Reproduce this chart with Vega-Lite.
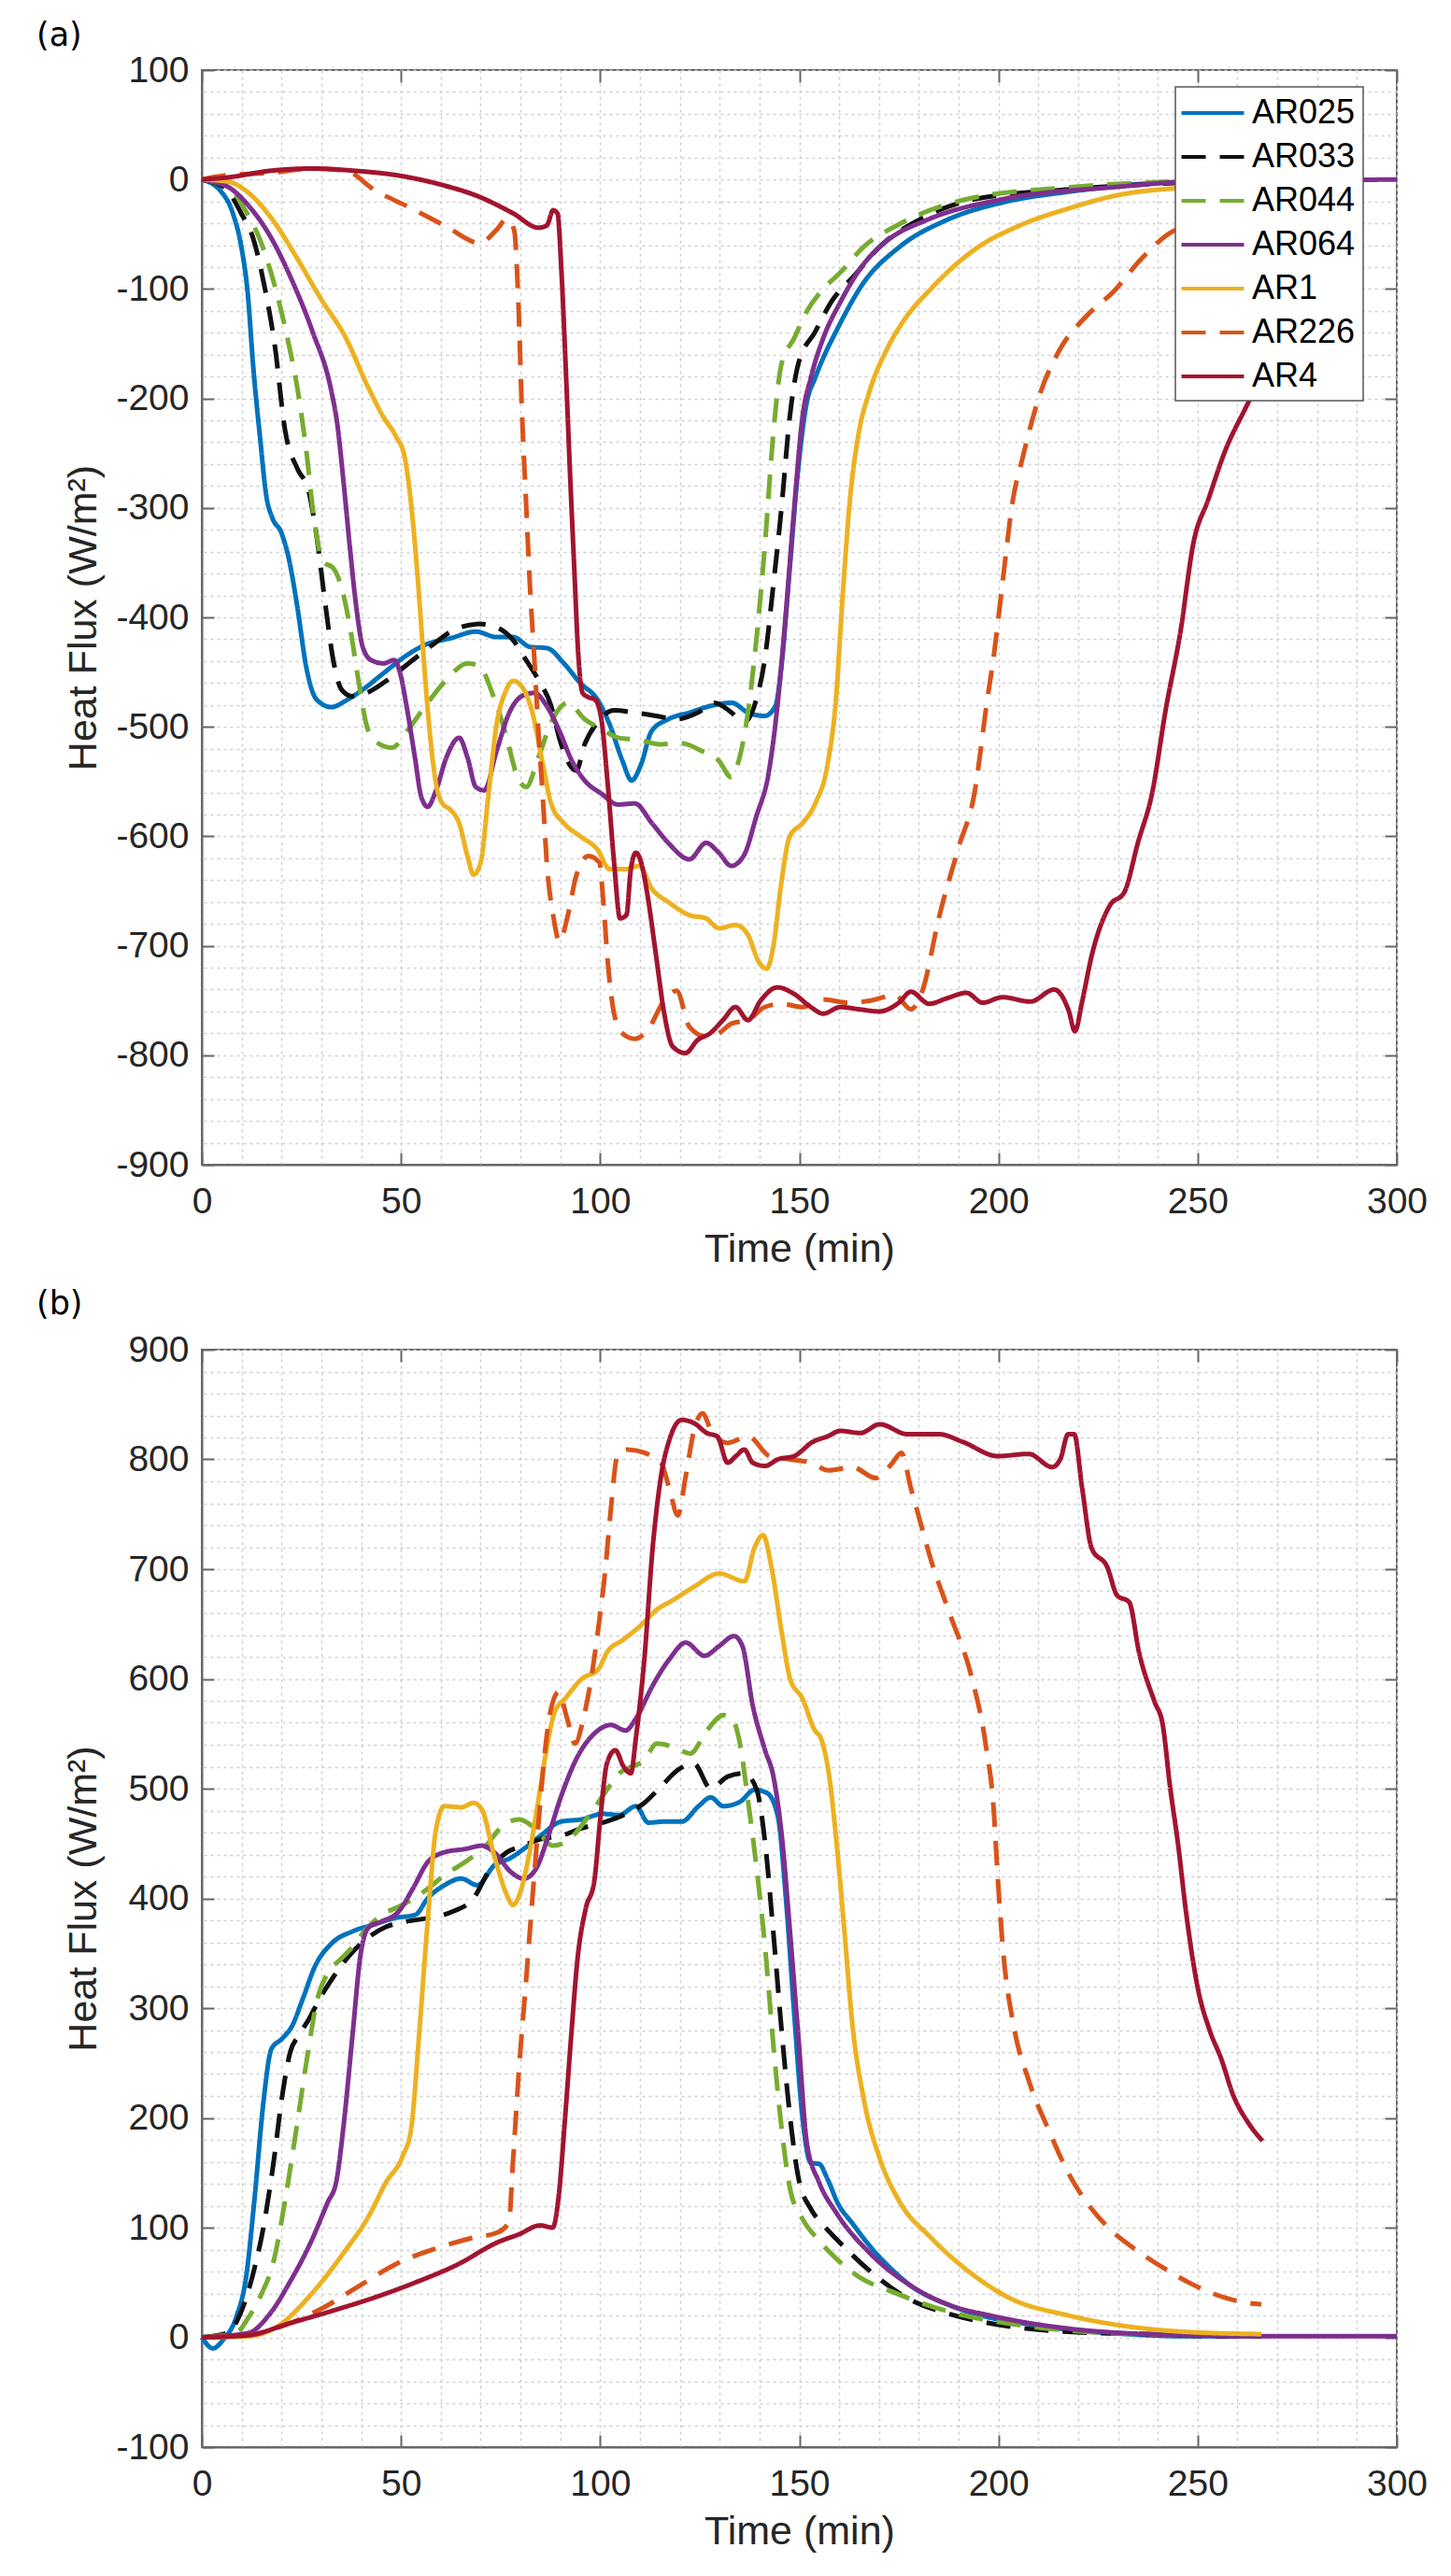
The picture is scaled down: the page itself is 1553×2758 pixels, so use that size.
{
"$schema":"https://vega.github.io/schema/vega-lite/v6.json",
"padding":{"left":38,"top":20,"right":10,"bottom":10},
"background":"white",
"config":{
 "view":{"stroke":"#666","strokeWidth":2},
 "axis":{"labelFont":"Liberation Sans","labelFontSize":39,"labelColor":"#262626","titleFont":"Liberation Sans","titleFontSize":43,"titleFontWeight":"normal","titleColor":"#262626","domainColor":"#666","domainWidth":2,"tickColor":"#666","tickWidth":2,"tickSize":-13,"grid":false,"gridColor":"#cfcfcf","gridDash":[3,4],"gridWidth":1.5,"labelOverlap":false,"labelBound":false,"labelFlush":false},
 "legend":{"orient":"none","legendX":1042,"legendY":18,"title":null,"labelFontSize":36,"labelFont":"Liberation Sans","labelColor":"#000","symbolType":"M-1.86,0H1.86","symbolSize":1296,"symbolStrokeWidth":4,"symbolOffset":12,"labelOffset":22,"rowPadding":9,"padding":8,"strokeColor":"#555","strokeWidth":1.5,"fillColor":"#fff","labelLimit":300},
 "line":{"strokeCap":"butt"}
},
"vconcat":[
 {
  "data":{"name":"a"},
  "title":{"text":"(a)","anchor":"start","frame":"group","dx":-177,"offset":0,"fontSize":35,"font":"DejaVu Sans","fontWeight":"normal","color":"#000"},
  "width":1279,"height":1172,
  "layer":[
   {"mark":{"type":"line","strokeOpacity":0},
    "encoding":{
     "x":{"field":"t","type":"quantitative","scale":{"domain":[0,300],"nice":false,"zero":false},"axis":{"orient":"top","values":[0,10,20,30,40,50,60,70,80,90,100,110,120,130,140,150,160,170,180,190,200,210,220,230,240,250,260,270,280,290,300],"grid":true,"labels":false,"domain":false,"title":null,"tickOpacity":{"condition":{"test":"datum.value % 50 === 0","value":1},"value":0},"maxExtent":0,"minExtent":0}},
     "y":{"field":"v","type":"quantitative","scale":{"domain":[-900,100],"nice":false,"zero":false},"axis":{"orient":"right","values":[-900,-880,-860,-840,-820,-800,-780,-760,-740,-720,-700,-680,-660,-640,-620,-600,-580,-560,-540,-520,-500,-480,-460,-440,-420,-400,-380,-360,-340,-320,-300,-280,-260,-240,-220,-200,-180,-160,-140,-120,-100,-80,-60,-40,-20,0,20,40,60,80,100],"grid":true,"labels":false,"domain":false,"title":null,"tickOpacity":{"condition":{"test":"datum.value % 100 === 0","value":1},"value":0},"maxExtent":0,"minExtent":0}},
     "detail":{"field":"s"}
    }},
   {"mark":{"type":"line","strokeWidth":5,"interpolate":"monotone"},
    "encoding":{
     "x":{"field":"t","type":"quantitative","axis":{"orient":"bottom","values":[0,50,100,150,200,250,300],"title":"Time (min)","labelPadding":33,"titlePadding":10}},
     "y":{"field":"v","type":"quantitative","axis":{"orient":"left","values":[-900,-800,-700,-600,-500,-400,-300,-200,-100,0,100],"labelExpr":"'' + datum.value","title":"Heat Flux (W/m²)","labelPadding":27,"titlePadding":12}},
     "color":{"field":"s","type":"nominal","scale":{"domain":["AR025","AR033","AR044","AR064","AR1","AR226","AR4"],"range":["#0072BD","#111111","#77AC30","#7E2F8E","#EDB120","#D95319","#A2142F"]}},
     "strokeDash":{"field":"s","type":"nominal","scale":{"domain":["AR025","AR033","AR044","AR064","AR1","AR226","AR4"],"range":[[1,0],[26,15],[26,15],[1,0],[1,0],[26,15],[1,0]]}}
    }}
  ],
  "resolve":{"axis":{"x":"independent","y":"independent"}}
 },
 {
  "data":{"name":"b"},
  "title":{"text":"(b)","anchor":"start","frame":"group","dx":-177,"offset":12,"fontSize":35,"font":"DejaVu Sans","fontWeight":"normal","color":"#000"},
  "width":1279,"height":1175,
  "layer":[
   {"mark":{"type":"line","strokeOpacity":0},
    "encoding":{
     "x":{"field":"t","type":"quantitative","scale":{"domain":[0,300],"nice":false,"zero":false},"axis":{"orient":"top","values":[0,10,20,30,40,50,60,70,80,90,100,110,120,130,140,150,160,170,180,190,200,210,220,230,240,250,260,270,280,290,300],"grid":true,"labels":false,"domain":false,"title":null,"tickOpacity":{"condition":{"test":"datum.value % 50 === 0","value":1},"value":0},"maxExtent":0,"minExtent":0}},
     "y":{"field":"v","type":"quantitative","scale":{"domain":[-100,900],"nice":false,"zero":false},"axis":{"orient":"right","values":[-100,-80,-60,-40,-20,0,20,40,60,80,100,120,140,160,180,200,220,240,260,280,300,320,340,360,380,400,420,440,460,480,500,520,540,560,580,600,620,640,660,680,700,720,740,760,780,800,820,840,860,880,900],"grid":true,"labels":false,"domain":false,"title":null,"tickOpacity":{"condition":{"test":"datum.value % 100 === 0","value":1},"value":0},"maxExtent":0,"minExtent":0}},
     "detail":{"field":"s"}
    }},
   {"mark":{"type":"line","strokeWidth":5,"interpolate":"monotone"},
    "encoding":{
     "x":{"field":"t","type":"quantitative","axis":{"orient":"bottom","values":[0,50,100,150,200,250,300],"title":"Time (min)","labelPadding":33,"titlePadding":10}},
     "y":{"field":"v","type":"quantitative","axis":{"orient":"left","values":[-100,0,100,200,300,400,500,600,700,800,900],"labelExpr":"'' + datum.value","title":"Heat Flux (W/m²)","labelPadding":27,"titlePadding":12}},
     "color":{"field":"s","type":"nominal","scale":{"domain":["AR025","AR033","AR044","AR064","AR1","AR226","AR4"],"range":["#0072BD","#111111","#77AC30","#7E2F8E","#EDB120","#D95319","#A2142F"]}},
     "strokeDash":{"field":"s","type":"nominal","scale":{"domain":["AR025","AR033","AR044","AR064","AR1","AR226","AR4"],"range":[[1,0],[26,15],[26,15],[1,0],[1,0],[26,15],[1,0]]}}
    }}
  ],
  "resolve":{"axis":{"x":"independent","y":"independent"}}
 }
],
"spacing":18,
"datasets":{
"a":[
{"s":"AR025","t":0,"v":0},{"s":"AR025","t":4.6,"v":-10},{"s":"AR025","t":7.8,"v":-31},{"s":"AR025","t":9.9,"v":-61},{"s":"AR025","t":11.5,"v":-103},{"s":"AR025","t":13,"v":-175},{"s":"AR025","t":14.6,"v":-235},{"s":"AR025","t":16.2,"v":-289},{"s":"AR025","t":17.8,"v":-310},{"s":"AR025","t":19.9,"v":-322},{"s":"AR025","t":22,"v":-349},{"s":"AR025","t":24,"v":-391},{"s":"AR025","t":26.2,"v":-445},{"s":"AR025","t":28.8,"v":-475},{"s":"AR025","t":32.5,"v":-482},{"s":"AR025","t":36.2,"v":-476},{"s":"AR025","t":40.4,"v":-466},{"s":"AR025","t":45.6,"v":-451},{"s":"AR025","t":50.9,"v":-436},{"s":"AR025","t":56.1,"v":-425},{"s":"AR025","t":62.5,"v":-419},{"s":"AR025","t":68.8,"v":-413},{"s":"AR025","t":74,"v":-418},{"s":"AR025","t":78.2,"v":-418},{"s":"AR025","t":82.4,"v":-427},{"s":"AR025","t":86.6,"v":-428},{"s":"AR025","t":90.9,"v":-442},{"s":"AR025","t":95,"v":-460},{"s":"AR025","t":99.3,"v":-475},{"s":"AR025","t":102.4,"v":-498},{"s":"AR025","t":105.6,"v":-531},{"s":"AR025","t":107.9,"v":-549},{"s":"AR025","t":110.3,"v":-534},{"s":"AR025","t":112.9,"v":-504},{"s":"AR025","t":117.1,"v":-493},{"s":"AR025","t":122.4,"v":-487},{"s":"AR025","t":127.6,"v":-481},{"s":"AR025","t":133,"v":-478},{"s":"AR025","t":137.1,"v":-487},{"s":"AR025","t":141.3,"v":-490},{"s":"AR025","t":144,"v":-481},{"s":"AR025","t":145.5,"v":-445},{"s":"AR025","t":147.6,"v":-355},{"s":"AR025","t":149.7,"v":-265},{"s":"AR025","t":151.8,"v":-205},{"s":"AR025","t":154,"v":-181},{"s":"AR025","t":156,"v":-163},{"s":"AR025","t":159.2,"v":-139},{"s":"AR025","t":166,"v":-95},{"s":"AR025","t":175,"v":-62},{"s":"AR025","t":187,"v":-37},{"s":"AR025","t":201,"v":-21},{"s":"AR025","t":218,"v":-11},{"s":"AR025","t":241,"v":-3},{"s":"AR025","t":266,"v":-1},
{"s":"AR033","t":0,"v":0},{"s":"AR033","t":5.7,"v":-7},{"s":"AR033","t":9.9,"v":-31},{"s":"AR033","t":13,"v":-55},{"s":"AR033","t":15.7,"v":-97},{"s":"AR033","t":18.3,"v":-151},{"s":"AR033","t":20.9,"v":-229},{"s":"AR033","t":24.1,"v":-265},{"s":"AR033","t":26.7,"v":-283},{"s":"AR033","t":28.8,"v":-325},{"s":"AR033","t":30.9,"v":-385},{"s":"AR033","t":33,"v":-439},{"s":"AR033","t":35.1,"v":-466},{"s":"AR033","t":37.7,"v":-472},{"s":"AR033","t":41.4,"v":-469},{"s":"AR033","t":46.7,"v":-457},{"s":"AR033","t":51.9,"v":-442},{"s":"AR033","t":58.3,"v":-424},{"s":"AR033","t":63.5,"v":-411},{"s":"AR033","t":69.8,"v":-406},{"s":"AR033","t":74,"v":-409},{"s":"AR033","t":78.2,"v":-421},{"s":"AR033","t":81.4,"v":-439},{"s":"AR033","t":84.5,"v":-457},{"s":"AR033","t":87.7,"v":-481},{"s":"AR033","t":89.8,"v":-511},{"s":"AR033","t":91.9,"v":-532},{"s":"AR033","t":94,"v":-540},{"s":"AR033","t":96.1,"v":-516},{"s":"AR033","t":99.3,"v":-496},{"s":"AR033","t":103.5,"v":-485},{"s":"AR033","t":108.7,"v":-487},{"s":"AR033","t":114,"v":-490},{"s":"AR033","t":119.2,"v":-493},{"s":"AR033","t":124.5,"v":-487},{"s":"AR033","t":128.7,"v":-478},{"s":"AR033","t":133,"v":-487},{"s":"AR033","t":136,"v":-496},{"s":"AR033","t":139.2,"v":-475},{"s":"AR033","t":141.3,"v":-439},{"s":"AR033","t":143.4,"v":-373},{"s":"AR033","t":145.5,"v":-301},{"s":"AR033","t":147.6,"v":-217},{"s":"AR033","t":149.7,"v":-169},{"s":"AR033","t":154,"v":-139},{"s":"AR033","t":158,"v":-112},{"s":"AR033","t":164,"v":-87},{"s":"AR033","t":170,"v":-62},{"s":"AR033","t":180,"v":-37},{"s":"AR033","t":194,"v":-18},{"s":"AR033","t":218,"v":-9},{"s":"AR033","t":245,"v":-3},{"s":"AR033","t":266,"v":-1},
{"s":"AR044","t":0,"v":0},{"s":"AR044","t":6.7,"v":-7},{"s":"AR044","t":10.9,"v":-28},{"s":"AR044","t":14.6,"v":-55},{"s":"AR044","t":18.3,"v":-97},{"s":"AR044","t":21.5,"v":-145},{"s":"AR044","t":24.1,"v":-193},{"s":"AR044","t":26.2,"v":-247},{"s":"AR044","t":28.3,"v":-313},{"s":"AR044","t":30.4,"v":-349},{"s":"AR044","t":33,"v":-355},{"s":"AR044","t":35.1,"v":-373},{"s":"AR044","t":37.2,"v":-409},{"s":"AR044","t":39.3,"v":-457},{"s":"AR044","t":41.4,"v":-499},{"s":"AR044","t":43.5,"v":-513},{"s":"AR044","t":47.7,"v":-519},{"s":"AR044","t":51.9,"v":-502},{"s":"AR044","t":56.1,"v":-481},{"s":"AR044","t":61.4,"v":-457},{"s":"AR044","t":66.7,"v":-442},{"s":"AR044","t":69.8,"v":-445},{"s":"AR044","t":72.9,"v":-469},{"s":"AR044","t":76.1,"v":-504},{"s":"AR044","t":79.3,"v":-546},{"s":"AR044","t":81.4,"v":-555},{"s":"AR044","t":84.5,"v":-528},{"s":"AR044","t":87.7,"v":-496},{"s":"AR044","t":91.9,"v":-478},{"s":"AR044","t":96.1,"v":-493},{"s":"AR044","t":100.3,"v":-502},{"s":"AR044","t":104.5,"v":-510},{"s":"AR044","t":109.8,"v":-512},{"s":"AR044","t":115,"v":-516},{"s":"AR044","t":120.3,"v":-515},{"s":"AR044","t":125.5,"v":-522},{"s":"AR044","t":129.8,"v":-531},{"s":"AR044","t":132.9,"v":-546},{"s":"AR044","t":135,"v":-528},{"s":"AR044","t":137.1,"v":-487},{"s":"AR044","t":139.2,"v":-421},{"s":"AR044","t":141.3,"v":-337},{"s":"AR044","t":143.4,"v":-235},{"s":"AR044","t":145.5,"v":-169},{"s":"AR044","t":148.7,"v":-145},{"s":"AR044","t":151.8,"v":-121},{"s":"AR044","t":156,"v":-100},{"s":"AR044","t":160.3,"v":-85},{"s":"AR044","t":166,"v":-62},{"s":"AR044","t":175,"v":-41},{"s":"AR044","t":192,"v":-18},{"s":"AR044","t":218,"v":-7},{"s":"AR044","t":243,"v":-2},{"s":"AR044","t":266,"v":0},
{"s":"AR064","t":0,"v":0},{"s":"AR064","t":6.7,"v":-7},{"s":"AR064","t":12,"v":-25},{"s":"AR064","t":17.2,"v":-52},{"s":"AR064","t":22.5,"v":-91},{"s":"AR064","t":27.8,"v":-139},{"s":"AR064","t":32.5,"v":-193},{"s":"AR064","t":34,"v":-223},{"s":"AR064","t":35.6,"v":-277},{"s":"AR064","t":37.2,"v":-337},{"s":"AR064","t":38.8,"v":-391},{"s":"AR064","t":40.4,"v":-427},{"s":"AR064","t":42.5,"v":-439},{"s":"AR064","t":45.6,"v":-442},{"s":"AR064","t":48.3,"v":-439},{"s":"AR064","t":49.8,"v":-451},{"s":"AR064","t":51.4,"v":-481},{"s":"AR064","t":53.5,"v":-528},{"s":"AR064","t":55.1,"v":-564},{"s":"AR064","t":56.7,"v":-573},{"s":"AR064","t":58.8,"v":-558},{"s":"AR064","t":61.4,"v":-528},{"s":"AR064","t":64.6,"v":-510},{"s":"AR064","t":66.7,"v":-528},{"s":"AR064","t":68.8,"v":-555},{"s":"AR064","t":70.9,"v":-558},{"s":"AR064","t":74,"v":-522},{"s":"AR064","t":77.2,"v":-487},{"s":"AR064","t":80.3,"v":-472},{"s":"AR064","t":83.5,"v":-469},{"s":"AR064","t":86.6,"v":-481},{"s":"AR064","t":89.8,"v":-504},{"s":"AR064","t":92.9,"v":-531},{"s":"AR064","t":96.1,"v":-549},{"s":"AR064","t":100.3,"v":-561},{"s":"AR064","t":104.5,"v":-571},{"s":"AR064","t":108.7,"v":-570},{"s":"AR064","t":113,"v":-588},{"s":"AR064","t":117.1,"v":-606},{"s":"AR064","t":122.4,"v":-621},{"s":"AR064","t":126.6,"v":-606},{"s":"AR064","t":129.8,"v":-615},{"s":"AR064","t":132.9,"v":-627},{"s":"AR064","t":136,"v":-618},{"s":"AR064","t":139.2,"v":-582},{"s":"AR064","t":142.4,"v":-540},{"s":"AR064","t":144.5,"v":-481},{"s":"AR064","t":146.6,"v":-397},{"s":"AR064","t":148.7,"v":-301},{"s":"AR064","t":150.8,"v":-217},{"s":"AR064","t":152.9,"v":-181},{"s":"AR064","t":156,"v":-145},{"s":"AR064","t":160.3,"v":-112},{"s":"AR064","t":166,"v":-78},{"s":"AR064","t":172,"v":-56},{"s":"AR064","t":182,"v":-37},{"s":"AR064","t":201,"v":-18},{"s":"AR064","t":229,"v":-7},{"s":"AR064","t":248,"v":-2},{"s":"AR064","t":270,"v":-1},{"s":"AR064","t":300,"v":0},
{"s":"AR1","t":0,"v":0},{"s":"AR1","t":6.7,"v":-2},{"s":"AR1","t":12,"v":-13},{"s":"AR1","t":17.2,"v":-34},{"s":"AR1","t":23.6,"v":-70},{"s":"AR1","t":29.9,"v":-109},{"s":"AR1","t":36.2,"v":-145},{"s":"AR1","t":41.4,"v":-187},{"s":"AR1","t":45.6,"v":-217},{"s":"AR1","t":48.8,"v":-235},{"s":"AR1","t":50.9,"v":-253},{"s":"AR1","t":52.5,"v":-295},{"s":"AR1","t":54,"v":-355},{"s":"AR1","t":55.6,"v":-433},{"s":"AR1","t":57.2,"v":-504},{"s":"AR1","t":58.8,"v":-552},{"s":"AR1","t":60.4,"v":-570},{"s":"AR1","t":62.5,"v":-576},{"s":"AR1","t":64.6,"v":-588},{"s":"AR1","t":66.7,"v":-618},{"s":"AR1","t":68.2,"v":-635},{"s":"AR1","t":70,"v":-624},{"s":"AR1","t":71.9,"v":-564},{"s":"AR1","t":74,"v":-498},{"s":"AR1","t":76.1,"v":-469},{"s":"AR1","t":78.2,"v":-458},{"s":"AR1","t":80.3,"v":-463},{"s":"AR1","t":83,"v":-487},{"s":"AR1","t":85.6,"v":-534},{"s":"AR1","t":87.7,"v":-570},{"s":"AR1","t":90.9,"v":-588},{"s":"AR1","t":95,"v":-600},{"s":"AR1","t":99.3,"v":-612},{"s":"AR1","t":102.4,"v":-630},{"s":"AR1","t":106.6,"v":-630},{"s":"AR1","t":109.8,"v":-627},{"s":"AR1","t":113,"v":-648},{"s":"AR1","t":117.1,"v":-660},{"s":"AR1","t":122.4,"v":-672},{"s":"AR1","t":126.6,"v":-675},{"s":"AR1","t":129.8,"v":-684},{"s":"AR1","t":134,"v":-681},{"s":"AR1","t":137.1,"v":-690},{"s":"AR1","t":139.7,"v":-714},{"s":"AR1","t":141.8,"v":-721},{"s":"AR1","t":143.4,"v":-702},{"s":"AR1","t":145.5,"v":-642},{"s":"AR1","t":147.6,"v":-600},{"s":"AR1","t":150.8,"v":-588},{"s":"AR1","t":154,"v":-570},{"s":"AR1","t":157.1,"v":-534},{"s":"AR1","t":159.2,"v":-475},{"s":"AR1","t":160.8,"v":-385},{"s":"AR1","t":162.7,"v":-293},{"s":"AR1","t":165,"v":-230},{"s":"AR1","t":167.5,"v":-195},{"s":"AR1","t":172,"v":-155},{"s":"AR1","t":176,"v":-130},{"s":"AR1","t":183,"v":-100},{"s":"AR1","t":194,"v":-64},{"s":"AR1","t":206,"v":-41},{"s":"AR1","t":218,"v":-26},{"s":"AR1","t":229,"v":-15},{"s":"AR1","t":248,"v":-7},{"s":"AR1","t":266,"v":-4},
{"s":"AR226","t":0,"v":0},{"s":"AR226","t":6.7,"v":4},{"s":"AR226","t":17.2,"v":6},{"s":"AR226","t":27.8,"v":10},{"s":"AR226","t":36.2,"v":8},{"s":"AR226","t":43.5,"v":-10},{"s":"AR226","t":51.9,"v":-25},{"s":"AR226","t":61.4,"v":-43},{"s":"AR226","t":69.8,"v":-58},{"s":"AR226","t":74,"v":-46},{"s":"AR226","t":76.6,"v":-36},{"s":"AR226","t":78.4,"v":-46},{"s":"AR226","t":79.5,"v":-115},{"s":"AR226","t":80.3,"v":-205},{"s":"AR226","t":81.4,"v":-295},{"s":"AR226","t":82.4,"v":-373},{"s":"AR226","t":83.5,"v":-439},{"s":"AR226","t":84.5,"v":-504},{"s":"AR226","t":85.6,"v":-564},{"s":"AR226","t":86.6,"v":-624},{"s":"AR226","t":88.2,"v":-672},{"s":"AR226","t":89.8,"v":-696},{"s":"AR226","t":91.9,"v":-672},{"s":"AR226","t":94,"v":-636},{"s":"AR226","t":97.1,"v":-618},{"s":"AR226","t":99.8,"v":-624},{"s":"AR226","t":100.8,"v":-660},{"s":"AR226","t":101.9,"v":-714},{"s":"AR226","t":103.5,"v":-762},{"s":"AR226","t":105.6,"v":-780},{"s":"AR226","t":108.7,"v":-785},{"s":"AR226","t":111.9,"v":-777},{"s":"AR226","t":116.1,"v":-750},{"s":"AR226","t":119.2,"v":-741},{"s":"AR226","t":122.4,"v":-774},{"s":"AR226","t":126.6,"v":-783},{"s":"AR226","t":129.8,"v":-780},{"s":"AR226","t":133,"v":-771},{"s":"AR226","t":137.1,"v":-768},{"s":"AR226","t":141.3,"v":-756},{"s":"AR226","t":145.5,"v":-753},{"s":"AR226","t":150.8,"v":-756},{"s":"AR226","t":156,"v":-749},{"s":"AR226","t":162,"v":-752},{"s":"AR226","t":168,"v":-750},{"s":"AR226","t":174,"v":-745},{"s":"AR226","t":178,"v":-758},{"s":"AR226","t":181,"v":-740},{"s":"AR226","t":185,"v":-675},{"s":"AR226","t":190,"v":-610},{"s":"AR226","t":194,"v":-560},{"s":"AR226","t":197,"v":-480},{"s":"AR226","t":199,"v":-430},{"s":"AR226","t":201,"v":-369},{"s":"AR226","t":203.6,"v":-293},{"s":"AR226","t":206,"v":-255},{"s":"AR226","t":210.6,"v":-194},{"s":"AR226","t":215.3,"v":-156},{"s":"AR226","t":222,"v":-125},{"s":"AR226","t":229,"v":-102},{"s":"AR226","t":236,"v":-72},{"s":"AR226","t":243,"v":-49},{"s":"AR226","t":250,"v":-40},{"s":"AR226","t":258,"v":-33},{"s":"AR226","t":265,"v":-30},
{"s":"AR4","t":0,"v":0},{"s":"AR4","t":6.7,"v":2},{"s":"AR4","t":17.2,"v":8},{"s":"AR4","t":27.8,"v":10},{"s":"AR4","t":38.3,"v":8},{"s":"AR4","t":48.8,"v":4},{"s":"AR4","t":59.3,"v":-4},{"s":"AR4","t":69.8,"v":-16},{"s":"AR4","t":78.2,"v":-31},{"s":"AR4","t":84.5,"v":-44},{"s":"AR4","t":86.6,"v":-42},{"s":"AR4","t":88.2,"v":-28},{"s":"AR4","t":89.3,"v":-31},{"s":"AR4","t":90.3,"v":-85},{"s":"AR4","t":91.4,"v":-175},{"s":"AR4","t":92.4,"v":-265},{"s":"AR4","t":93.5,"v":-355},{"s":"AR4","t":94.5,"v":-433},{"s":"AR4","t":95.6,"v":-469},{"s":"AR4","t":97.1,"v":-473},{"s":"AR4","t":98.7,"v":-475},{"s":"AR4","t":100.3,"v":-493},{"s":"AR4","t":101.9,"v":-552},{"s":"AR4","t":103.5,"v":-624},{"s":"AR4","t":105,"v":-675},{"s":"AR4","t":106.6,"v":-672},{"s":"AR4","t":107.7,"v":-630},{"s":"AR4","t":109,"v":-615},{"s":"AR4","t":110.3,"v":-624},{"s":"AR4","t":111.9,"v":-654},{"s":"AR4","t":114,"v":-708},{"s":"AR4","t":116.1,"v":-762},{"s":"AR4","t":118.2,"v":-792},{"s":"AR4","t":121.4,"v":-798},{"s":"AR4","t":124.5,"v":-786},{"s":"AR4","t":127.6,"v":-780},{"s":"AR4","t":130.8,"v":-768},{"s":"AR4","t":134,"v":-756},{"s":"AR4","t":137.1,"v":-768},{"s":"AR4","t":140.3,"v":-750},{"s":"AR4","t":144.5,"v":-738},{"s":"AR4","t":148.7,"v":-744},{"s":"AR4","t":152.9,"v":-756},{"s":"AR4","t":156,"v":-762},{"s":"AR4","t":160.3,"v":-756},{"s":"AR4","t":165,"v":-758},{"s":"AR4","t":170,"v":-760},{"s":"AR4","t":175,"v":-752},{"s":"AR4","t":178,"v":-742},{"s":"AR4","t":182.6,"v":-753},{"s":"AR4","t":187,"v":-748},{"s":"AR4","t":192,"v":-743},{"s":"AR4","t":196,"v":-752},{"s":"AR4","t":201,"v":-747},{"s":"AR4","t":208,"v":-751},{"s":"AR4","t":214,"v":-740},{"s":"AR4","t":217.6,"v":-759},{"s":"AR4","t":219.2,"v":-778},{"s":"AR4","t":221,"v":-751},{"s":"AR4","t":223.4,"v":-709},{"s":"AR4","t":228,"v":-663},{"s":"AR4","t":231.6,"v":-651},{"s":"AR4","t":235,"v":-606},{"s":"AR4","t":238.6,"v":-560},{"s":"AR4","t":242,"v":-484},{"s":"AR4","t":245.6,"v":-415},{"s":"AR4","t":249,"v":-331},{"s":"AR4","t":252.6,"v":-293},{"s":"AR4","t":257,"v":-247},{"s":"AR4","t":262,"v":-209},{"s":"AR4","t":266,"v":-180}
],
"b":[
{"s":"AR025","t":0,"v":0},{"s":"AR025","t":2.8,"v":-10},{"s":"AR025","t":5.4,"v":-2},{"s":"AR025","t":8.6,"v":18},{"s":"AR025","t":11.2,"v":57},{"s":"AR025","t":13.3,"v":129},{"s":"AR025","t":15.4,"v":212},{"s":"AR025","t":17.5,"v":263},{"s":"AR025","t":20.1,"v":272},{"s":"AR025","t":22.7,"v":284},{"s":"AR025","t":25.3,"v":308},{"s":"AR025","t":28.4,"v":338},{"s":"AR025","t":32.6,"v":359},{"s":"AR025","t":37.9,"v":370},{"s":"AR025","t":43.1,"v":376},{"s":"AR025","t":48.3,"v":382},{"s":"AR025","t":53.6,"v":385},{"s":"AR025","t":56.7,"v":400},{"s":"AR025","t":60.9,"v":412},{"s":"AR025","t":65.1,"v":418},{"s":"AR025","t":69.2,"v":412},{"s":"AR025","t":73.4,"v":430},{"s":"AR025","t":77.6,"v":437},{"s":"AR025","t":80.8,"v":445},{"s":"AR025","t":85,"v":457},{"s":"AR025","t":90.2,"v":470},{"s":"AR025","t":95.4,"v":472},{"s":"AR025","t":100.6,"v":477},{"s":"AR025","t":104.8,"v":476},{"s":"AR025","t":109,"v":484},{"s":"AR025","t":112.1,"v":469},{"s":"AR025","t":116.3,"v":470},{"s":"AR025","t":120.5,"v":470},{"s":"AR025","t":124.7,"v":484},{"s":"AR025","t":127.8,"v":492},{"s":"AR025","t":130.9,"v":484},{"s":"AR025","t":135.1,"v":488},{"s":"AR025","t":138.8,"v":499},{"s":"AR025","t":141.9,"v":496},{"s":"AR025","t":144.6,"v":475},{"s":"AR025","t":146.7,"v":397},{"s":"AR025","t":148.7,"v":296},{"s":"AR025","t":150.8,"v":200},{"s":"AR025","t":152.9,"v":159},{"s":"AR025","t":155,"v":158},{"s":"AR025","t":157.1,"v":144},{"s":"AR025","t":159.7,"v":122},{"s":"AR025","t":163.3,"v":104},{"s":"AR025","t":168.2,"v":81},{"s":"AR025","t":173.2,"v":62},{"s":"AR025","t":178,"v":47},{"s":"AR025","t":187.9,"v":29},{"s":"AR025","t":197.8,"v":18},{"s":"AR025","t":207.6,"v":12},{"s":"AR025","t":217.5,"v":7},{"s":"AR025","t":232,"v":3},{"s":"AR025","t":247,"v":1},{"s":"AR025","t":266,"v":1},
{"s":"AR033","t":0,"v":0},{"s":"AR033","t":6.5,"v":4},{"s":"AR033","t":9.6,"v":21},{"s":"AR033","t":12.8,"v":57},{"s":"AR033","t":15.4,"v":99},{"s":"AR033","t":18,"v":159},{"s":"AR033","t":20.1,"v":218},{"s":"AR033","t":22.2,"v":260},{"s":"AR033","t":24.3,"v":275},{"s":"AR033","t":26.9,"v":290},{"s":"AR033","t":29.5,"v":308},{"s":"AR033","t":32.6,"v":326},{"s":"AR033","t":36.8,"v":347},{"s":"AR033","t":41,"v":362},{"s":"AR033","t":46.2,"v":374},{"s":"AR033","t":51.5,"v":379},{"s":"AR033","t":56.7,"v":382},{"s":"AR033","t":63,"v":388},{"s":"AR033","t":68.2,"v":400},{"s":"AR033","t":72.4,"v":427},{"s":"AR033","t":76.6,"v":442},{"s":"AR033","t":80.7,"v":448},{"s":"AR033","t":85,"v":454},{"s":"AR033","t":90.2,"v":457},{"s":"AR033","t":95.4,"v":464},{"s":"AR033","t":100.6,"v":469},{"s":"AR033","t":105.9,"v":476},{"s":"AR033","t":111.1,"v":487},{"s":"AR033","t":115.3,"v":502},{"s":"AR033","t":119.5,"v":517},{"s":"AR033","t":123.5,"v":523},{"s":"AR033","t":127.8,"v":500},{"s":"AR033","t":132,"v":511},{"s":"AR033","t":136.2,"v":514},{"s":"AR033","t":139.3,"v":499},{"s":"AR033","t":141.4,"v":451},{"s":"AR033","t":143.5,"v":368},{"s":"AR033","t":145.6,"v":278},{"s":"AR033","t":147.7,"v":200},{"s":"AR033","t":149.8,"v":145},{"s":"AR033","t":152.9,"v":117},{"s":"AR033","t":156.1,"v":102},{"s":"AR033","t":159.2,"v":90},{"s":"AR033","t":168.2,"v":59},{"s":"AR033","t":178,"v":34},{"s":"AR033","t":188,"v":21},{"s":"AR033","t":202.7,"v":10},{"s":"AR033","t":217.5,"v":5},{"s":"AR033","t":237,"v":3},{"s":"AR033","t":257,"v":1},{"s":"AR033","t":266,"v":1},
{"s":"AR044","t":0,"v":0},{"s":"AR044","t":8.6,"v":4},{"s":"AR044","t":11.7,"v":18},{"s":"AR044","t":14.9,"v":39},{"s":"AR044","t":18,"v":69},{"s":"AR044","t":21.1,"v":129},{"s":"AR044","t":23.7,"v":189},{"s":"AR044","t":26.4,"v":254},{"s":"AR044","t":29,"v":308},{"s":"AR044","t":31.6,"v":332},{"s":"AR044","t":34.7,"v":344},{"s":"AR044","t":37.9,"v":356},{"s":"AR044","t":41,"v":371},{"s":"AR044","t":45.2,"v":385},{"s":"AR044","t":50.4,"v":394},{"s":"AR044","t":55.7,"v":406},{"s":"AR044","t":60.9,"v":421},{"s":"AR044","t":67.2,"v":436},{"s":"AR044","t":71.3,"v":448},{"s":"AR044","t":75.5,"v":466},{"s":"AR044","t":79.7,"v":472},{"s":"AR044","t":83.9,"v":463},{"s":"AR044","t":88.1,"v":448},{"s":"AR044","t":92.3,"v":454},{"s":"AR044","t":96.5,"v":472},{"s":"AR044","t":100.6,"v":493},{"s":"AR044","t":104.8,"v":514},{"s":"AR044","t":108,"v":520},{"s":"AR044","t":111.1,"v":526},{"s":"AR044","t":114.2,"v":541},{"s":"AR044","t":118.4,"v":538},{"s":"AR044","t":122.6,"v":532},{"s":"AR044","t":126.8,"v":553},{"s":"AR044","t":131,"v":567},{"s":"AR044","t":133.1,"v":564},{"s":"AR044","t":135.1,"v":541},{"s":"AR044","t":137.2,"v":487},{"s":"AR044","t":139.3,"v":427},{"s":"AR044","t":141.4,"v":356},{"s":"AR044","t":143.5,"v":266},{"s":"AR044","t":145.6,"v":189},{"s":"AR044","t":147.7,"v":135},{"s":"AR044","t":150.8,"v":108},{"s":"AR044","t":155,"v":88},{"s":"AR044","t":159.2,"v":72},{"s":"AR044","t":165,"v":55},{"s":"AR044","t":173,"v":42},{"s":"AR044","t":188,"v":23},{"s":"AR044","t":207.6,"v":10},{"s":"AR044","t":227,"v":4},{"s":"AR044","t":247,"v":2},{"s":"AR044","t":266,"v":1},
{"s":"AR064","t":0,"v":0},{"s":"AR064","t":11.7,"v":4},{"s":"AR064","t":17,"v":21},{"s":"AR064","t":22.2,"v":51},{"s":"AR064","t":27.4,"v":87},{"s":"AR064","t":31.6,"v":123},{"s":"AR064","t":33.7,"v":141},{"s":"AR064","t":35.8,"v":200},{"s":"AR064","t":37.9,"v":278},{"s":"AR064","t":39.9,"v":350},{"s":"AR064","t":42,"v":374},{"s":"AR064","t":45.2,"v":379},{"s":"AR064","t":49.4,"v":388},{"s":"AR064","t":53,"v":409},{"s":"AR064","t":56.7,"v":433},{"s":"AR064","t":60.9,"v":442},{"s":"AR064","t":66.1,"v":445},{"s":"AR064","t":70.3,"v":448},{"s":"AR064","t":73.4,"v":442},{"s":"AR064","t":77.6,"v":424},{"s":"AR064","t":80.8,"v":418},{"s":"AR064","t":83.9,"v":427},{"s":"AR064","t":87,"v":457},{"s":"AR064","t":90.2,"v":493},{"s":"AR064","t":94.3,"v":529},{"s":"AR064","t":98.5,"v":550},{"s":"AR064","t":102.7,"v":558},{"s":"AR064","t":106.4,"v":553},{"s":"AR064","t":109,"v":564},{"s":"AR064","t":113.2,"v":594},{"s":"AR064","t":117.4,"v":618},{"s":"AR064","t":121.5,"v":633},{"s":"AR064","t":126.2,"v":621},{"s":"AR064","t":129.9,"v":630},{"s":"AR064","t":133.6,"v":639},{"s":"AR064","t":135.7,"v":630},{"s":"AR064","t":138.3,"v":576},{"s":"AR064","t":141.4,"v":535},{"s":"AR064","t":143.5,"v":511},{"s":"AR064","t":145.6,"v":457},{"s":"AR064","t":147.7,"v":368},{"s":"AR064","t":149.8,"v":272},{"s":"AR064","t":151.9,"v":177},{"s":"AR064","t":155,"v":141},{"s":"AR064","t":159.2,"v":114},{"s":"AR064","t":168.2,"v":75},{"s":"AR064","t":178,"v":47},{"s":"AR064","t":188,"v":29},{"s":"AR064","t":197.8,"v":20},{"s":"AR064","t":217.5,"v":8},{"s":"AR064","t":237,"v":3},{"s":"AR064","t":266,"v":1},{"s":"AR064","t":300,"v":1},
{"s":"AR1","t":0,"v":0},{"s":"AR1","t":11.7,"v":1},{"s":"AR1","t":19,"v":10},{"s":"AR1","t":27.4,"v":39},{"s":"AR1","t":35.8,"v":78},{"s":"AR1","t":42,"v":111},{"s":"AR1","t":46.2,"v":141},{"s":"AR1","t":50.4,"v":165},{"s":"AR1","t":52.5,"v":189},{"s":"AR1","t":54.6,"v":278},{"s":"AR1","t":56.7,"v":379},{"s":"AR1","t":58.8,"v":463},{"s":"AR1","t":60.9,"v":484},{"s":"AR1","t":65.1,"v":483},{"s":"AR1","t":68.2,"v":487},{"s":"AR1","t":70.3,"v":481},{"s":"AR1","t":73.4,"v":439},{"s":"AR1","t":76.6,"v":403},{"s":"AR1","t":78.1,"v":394},{"s":"AR1","t":79.7,"v":403},{"s":"AR1","t":81.8,"v":433},{"s":"AR1","t":84.4,"v":487},{"s":"AR1","t":86.5,"v":535},{"s":"AR1","t":88.6,"v":570},{"s":"AR1","t":91.2,"v":582},{"s":"AR1","t":95.4,"v":600},{"s":"AR1","t":99.6,"v":609},{"s":"AR1","t":101.7,"v":624},{"s":"AR1","t":105.9,"v":636},{"s":"AR1","t":110,"v":648},{"s":"AR1","t":114.2,"v":663},{"s":"AR1","t":118.4,"v":672},{"s":"AR1","t":123.6,"v":684},{"s":"AR1","t":129.9,"v":696},{"s":"AR1","t":136.2,"v":689},{"s":"AR1","t":138.8,"v":720},{"s":"AR1","t":140.9,"v":731},{"s":"AR1","t":143,"v":702},{"s":"AR1","t":145.6,"v":642},{"s":"AR1","t":147.7,"v":600},{"s":"AR1","t":150.8,"v":582},{"s":"AR1","t":153.9,"v":553},{"s":"AR1","t":155.4,"v":546},{"s":"AR1","t":157.4,"v":514},{"s":"AR1","t":159.4,"v":449},{"s":"AR1","t":161.3,"v":371},{"s":"AR1","t":163.3,"v":286},{"s":"AR1","t":166.3,"v":215},{"s":"AR1","t":170.2,"v":163},{"s":"AR1","t":175.1,"v":124},{"s":"AR1","t":183,"v":91},{"s":"AR1","t":192.9,"v":59},{"s":"AR1","t":202.7,"v":36},{"s":"AR1","t":217.5,"v":20},{"s":"AR1","t":232.3,"v":10},{"s":"AR1","t":247,"v":5},{"s":"AR1","t":266,"v":3},
{"s":"AR226","t":0,"v":0},{"s":"AR226","t":11.7,"v":2},{"s":"AR226","t":22.2,"v":13},{"s":"AR226","t":30.5,"v":27},{"s":"AR226","t":40,"v":48},{"s":"AR226","t":48.3,"v":66},{"s":"AR226","t":58.8,"v":81},{"s":"AR226","t":67.2,"v":90},{"s":"AR226","t":74.5,"v":96},{"s":"AR226","t":77.1,"v":105},{"s":"AR226","t":78.1,"v":159},{"s":"AR226","t":79.7,"v":248},{"s":"AR226","t":81.3,"v":320},{"s":"AR226","t":82.8,"v":391},{"s":"AR226","t":84.4,"v":463},{"s":"AR226","t":86,"v":529},{"s":"AR226","t":87.5,"v":570},{"s":"AR226","t":89.6,"v":588},{"s":"AR226","t":91.7,"v":564},{"s":"AR226","t":93.7,"v":541},{"s":"AR226","t":95.8,"v":564},{"s":"AR226","t":98,"v":606},{"s":"AR226","t":99.6,"v":648},{"s":"AR226","t":101.2,"v":696},{"s":"AR226","t":102.7,"v":755},{"s":"AR226","t":104.3,"v":803},{"s":"AR226","t":106.9,"v":809},{"s":"AR226","t":111.1,"v":806},{"s":"AR226","t":115.3,"v":797},{"s":"AR226","t":117.4,"v":773},{"s":"AR226","t":119.5,"v":749},{"s":"AR226","t":121.5,"v":785},{"s":"AR226","t":123.6,"v":827},{"s":"AR226","t":125.7,"v":842},{"s":"AR226","t":127.8,"v":827},{"s":"AR226","t":132,"v":815},{"s":"AR226","t":137.2,"v":821},{"s":"AR226","t":142.5,"v":803},{"s":"AR226","t":147.7,"v":800},{"s":"AR226","t":152.9,"v":797},{"s":"AR226","t":157.4,"v":790},{"s":"AR226","t":163.3,"v":793},{"s":"AR226","t":169.2,"v":783},{"s":"AR226","t":173.2,"v":796},{"s":"AR226","t":175.6,"v":806},{"s":"AR226","t":178,"v":774},{"s":"AR226","t":180,"v":748},{"s":"AR226","t":183,"v":709},{"s":"AR226","t":188,"v":657},{"s":"AR226","t":193,"v":605},{"s":"AR226","t":196.8,"v":540},{"s":"AR226","t":198.8,"v":481},{"s":"AR226","t":199.8,"v":420},{"s":"AR226","t":201.2,"v":351},{"s":"AR226","t":203.7,"v":286},{"s":"AR226","t":207.6,"v":234},{"s":"AR226","t":212.6,"v":189},{"s":"AR226","t":217.5,"v":150},{"s":"AR226","t":223.4,"v":117},{"s":"AR226","t":227.3,"v":101},{"s":"AR226","t":235.2,"v":78},{"s":"AR226","t":242,"v":62},{"s":"AR226","t":250,"v":46},{"s":"AR226","t":257,"v":36},{"s":"AR226","t":263.3,"v":31},{"s":"AR226","t":266,"v":30},
{"s":"AR4","t":0,"v":0},{"s":"AR4","t":11.7,"v":2},{"s":"AR4","t":22.2,"v":13},{"s":"AR4","t":32.6,"v":24},{"s":"AR4","t":43.1,"v":36},{"s":"AR4","t":53.6,"v":50},{"s":"AR4","t":64,"v":66},{"s":"AR4","t":74.5,"v":87},{"s":"AR4","t":79.7,"v":94},{"s":"AR4","t":84.9,"v":102},{"s":"AR4","t":88.1,"v":100},{"s":"AR4","t":89.6,"v":129},{"s":"AR4","t":91.2,"v":200},{"s":"AR4","t":92.8,"v":278},{"s":"AR4","t":94.3,"v":344},{"s":"AR4","t":96.4,"v":391},{"s":"AR4","t":98.5,"v":415},{"s":"AR4","t":100.1,"v":475},{"s":"AR4","t":101.7,"v":523},{"s":"AR4","t":103.8,"v":535},{"s":"AR4","t":105.9,"v":520},{"s":"AR4","t":107.7,"v":514},{"s":"AR4","t":109,"v":547},{"s":"AR4","t":111.1,"v":618},{"s":"AR4","t":113.2,"v":720},{"s":"AR4","t":115.3,"v":785},{"s":"AR4","t":117.4,"v":818},{"s":"AR4","t":120.5,"v":836},{"s":"AR4","t":123.6,"v":833},{"s":"AR4","t":126.8,"v":824},{"s":"AR4","t":129.4,"v":821},{"s":"AR4","t":132,"v":797},{"s":"AR4","t":134.1,"v":803},{"s":"AR4","t":136.2,"v":809},{"s":"AR4","t":138.3,"v":797},{"s":"AR4","t":141.4,"v":794},{"s":"AR4","t":144.6,"v":800},{"s":"AR4","t":148.7,"v":803},{"s":"AR4","t":153.4,"v":816},{"s":"AR4","t":157.1,"v":821},{"s":"AR4","t":160.3,"v":826},{"s":"AR4","t":165.3,"v":824},{"s":"AR4","t":170.2,"v":832},{"s":"AR4","t":177.1,"v":823},{"s":"AR4","t":185,"v":823},{"s":"AR4","t":191,"v":816},{"s":"AR4","t":199.8,"v":803},{"s":"AR4","t":207.6,"v":805},{"s":"AR4","t":213.5,"v":793},{"s":"AR4","t":215.5,"v":800},{"s":"AR4","t":217.5,"v":823},{"s":"AR4","t":219,"v":823},{"s":"AR4","t":221,"v":774},{"s":"AR4","t":223.4,"v":719},{"s":"AR4","t":227.3,"v":702},{"s":"AR4","t":229.8,"v":676},{"s":"AR4","t":232.8,"v":670},{"s":"AR4","t":235.3,"v":624},{"s":"AR4","t":239.2,"v":579},{"s":"AR4","t":241.2,"v":559},{"s":"AR4","t":243.1,"v":501},{"s":"AR4","t":245.1,"v":449},{"s":"AR4","t":247,"v":390},{"s":"AR4","t":250,"v":319},{"s":"AR4","t":253,"v":280},{"s":"AR4","t":255.9,"v":254},{"s":"AR4","t":258.9,"v":221},{"s":"AR4","t":262.8,"v":195},{"s":"AR4","t":266.3,"v":179}
]
}
}
